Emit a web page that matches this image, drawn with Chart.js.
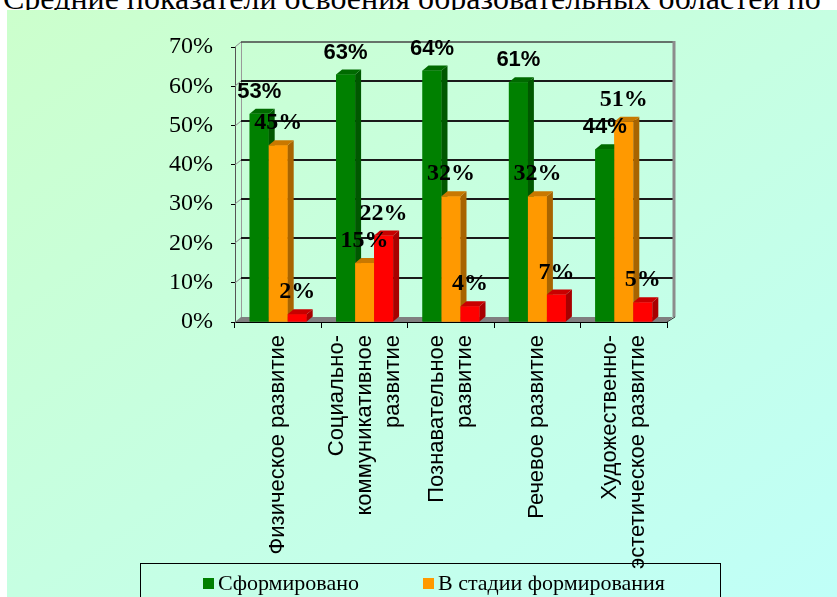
<!DOCTYPE html>
<html>
<head>
<meta charset="utf-8">
<script src="https://cdn.jsdelivr.net/npm/chart.js@4.4.1/dist/chart.umd.min.js"></script>
<style>
  html, body { margin: 0; padding: 0; background: #fff; width: 837px; height: 597px; overflow: hidden; }
  #title { position: absolute; left: 3px; top: -18px; font: 32px "Liberation Serif", "Times New Roman", serif; line-height: 32px; white-space: nowrap; color: #000; }
  #panel { position: absolute; left: 7px; top: 10px; right: 0; bottom: 0; background: linear-gradient(to bottom right, #ccffcc, #c0fff8); }
  #chart { position: absolute; left: 0; top: 0; }
</style>
</head>
<body>
<div id="title">Средние показатели освоения образовательных областей по</div>
<div id="panel"></div>
<canvas id="chart" width="837" height="597"></canvas>
<script>
// categories (multi-line labels as in the original)
const categories = [
  ['Физическое развитие'],
  ['Социально-', 'коммуникативное', 'развитие'],
  ['Познавательное', 'развитие'],
  ['Речевое развитие'],
  ['Художественно-', 'эстетическое развитие']
];
const seriesNames = ['Сформировано', 'В стадии формирования', 'Не сформировано'];
const formed = [53, 63, 64, 61, 44];
const inProgress = [45, 15, 32, 32, 51];
const notFormed = [2, 22, 4, 7, 5];
const yTicks = [0, 10, 20, 30, 40, 50, 60, 70];

const colors = [
  { front: '#008000', side: '#005800', top: '#006a00' },
  { front: '#ff9900', side: '#a86400', top: '#c87800' },
  { front: '#ff0000', side: '#a80000', top: '#c80000' }
];
const labelFonts = ['bold 22px "Liberation Sans", Arial, sans-serif',
                    'bold 24px "Liberation Serif", "Times New Roman", serif',
                    'bold 24px "Liberation Serif", "Times New Roman", serif'];
const DX = 6, DY = -5;

const box3d = {
  id: 'box3d',
  beforeDatasetsDraw(chart) {
    const ctx = chart.ctx;
    const a = chart.chartArea;
    const y = chart.scales.y;
    ctx.save();
    // floor
    ctx.fillStyle = '#808080';
    ctx.beginPath();
    ctx.moveTo(a.left, a.bottom);
    ctx.lineTo(a.right, a.bottom);
    ctx.lineTo(a.right + DX, a.bottom + DY);
    ctx.lineTo(a.left + DX, a.bottom + DY);
    ctx.closePath();
    ctx.fill();
    // left wall back edge
    ctx.strokeStyle = '#9a9a9a';
    ctx.lineWidth = 1;
    ctx.beginPath();
    ctx.moveTo(a.left + DX + 0.5, a.bottom + DY);
    ctx.lineTo(a.left + DX + 0.5, a.top + DY);
    ctx.stroke();
    // grid lines on back wall
    yTicks.forEach(v => {
      if (v === 0) return;
      const py = Math.round(y.getPixelForValue(v)) + DY;
      ctx.strokeStyle = '#8a8a8a';
      ctx.lineWidth = 1;
      ctx.beginPath();
      ctx.moveTo(a.left, py - DY);
      ctx.lineTo(a.left + DX, py);
      ctx.stroke();
      ctx.strokeStyle = v === 70 ? '#444' : '#1a1a1a';
      ctx.lineWidth = v === 70 ? 1.5 : 2;
      ctx.beginPath();
      ctx.moveTo(a.left + DX, py);
      ctx.lineTo(a.right + DX, py);
      ctx.stroke();
    });
    // right wall edge
    ctx.strokeStyle = '#8c8c8c';
    ctx.lineWidth = 3;
    ctx.beginPath();
    ctx.moveTo(a.right + DX + 1, a.top + DY - 1);
    ctx.lineTo(a.right + DX + 1, a.bottom + DY);
    ctx.stroke();
    ctx.strokeStyle = '#333';
    ctx.lineWidth = 1;
    ctx.beginPath();
    ctx.moveTo(a.right, a.bottom);
    ctx.lineTo(a.right + DX + 2, a.bottom + DY);
    ctx.stroke();
    ctx.restore();
  },
  afterDatasetsDraw(chart) {
    const ctx = chart.ctx;
    const n = categories.length;
    ctx.save();
    for (let i = 0; i < n; i++) {
      chart.data.datasets.forEach((ds, d) => {
        const bar = chart.getDatasetMeta(d).data[i];
        const l = bar.x - bar.width / 2, r = bar.x + bar.width / 2;
        const t = bar.y, b = bar.base;
        const c = colors[d];
        ctx.fillStyle = c.front;
        ctx.fillRect(l, t, r - l, b - t);
        ctx.fillStyle = c.side;
        ctx.beginPath();
        ctx.moveTo(r, t); ctx.lineTo(r + DX, t + DY); ctx.lineTo(r + DX, b + DY); ctx.lineTo(r, b);
        ctx.closePath(); ctx.fill();
        ctx.fillStyle = c.top;
        ctx.beginPath();
        ctx.moveTo(l, t); ctx.lineTo(l + DX, t + DY); ctx.lineTo(r + DX, t + DY); ctx.lineTo(r, t);
        ctx.closePath(); ctx.fill();
      });
    }
    // value labels
    ctx.fillStyle = '#000';
    ctx.textAlign = 'center';
    ctx.textBaseline = 'alphabetic';
    chart.data.datasets.forEach((ds, d) => {
      ctx.font = labelFonts[d];
      chart.getDatasetMeta(d).data.forEach((bar, i) => {
        ctx.fillText(ds.data[i] + '%', bar.x, bar.y - 16);
      });
    });
    ctx.restore();
  },
  afterDraw(chart) {
    const ctx = chart.ctx;
    const x = chart.scales.x;
    const a = chart.chartArea;
    ctx.save();
    // category labels, rotated, lines centred on the category
    ctx.font = '22px "Liberation Sans", Arial, sans-serif';
    ctx.fillStyle = '#000';
    ctx.textAlign = 'right';
    ctx.textBaseline = 'middle';
    const lh = 28;
    categories.forEach((lines, i) => {
      const cx = x.getPixelForValue(i);
      lines.forEach((s, j) => {
        ctx.save();
        ctx.translate(cx + (j - (lines.length - 1) / 2) * lh, a.bottom + 13);
        ctx.rotate(-Math.PI / 2);
        ctx.fillText(s, 0, 0);
        ctx.restore();
      });
    });
    // legend box (runs off the bottom edge as in the original)
    ctx.strokeStyle = '#000';
    ctx.lineWidth = 1;
    ctx.strokeRect(140.5, 563.5, 580, 70);
    ctx.font = '22px "Liberation Serif", "Times New Roman", serif';
    ctx.textAlign = 'left';
    ctx.textBaseline = 'alphabetic';
    const items = [[203, 590], [423, 590], [203, 620]];
    seriesNames.forEach((name, d) => {
      const [lx, ly] = items[d];
      ctx.fillStyle = colors[d].front;
      ctx.fillRect(lx, ly - 12, 11, 11);
      ctx.fillStyle = '#000';
      ctx.fillText(name, lx + 15, ly);
    });
    ctx.restore();
  }
};

new Chart(document.getElementById('chart'), {
  type: 'bar',
  data: {
    labels: categories.map(c => c.join(' ')),
    datasets: [
      { label: seriesNames[0], data: formed, backgroundColor: colors[0].front },
      { label: seriesNames[1], data: inProgress, backgroundColor: colors[1].front },
      { label: seriesNames[2], data: notFormed, backgroundColor: colors[2].front }
    ]
  },
  options: {
    responsive: false,
    animation: false,
    events: [],
    layout: { padding: { top: 47, right: 170, left: 0, bottom: 0 } },
    datasets: { bar: { categoryPercentage: 0.66, barPercentage: 1, borderWidth: 0 } },
    plugins: { legend: { display: false }, tooltip: { enabled: false } },
    scales: {
      x: {
        ticks: { display: false },
        grid: { display: true, drawOnChartArea: false, offset: true, tickLength: 6, color: '#000' },
        border: { display: true, color: '#000', width: 1 },
        afterFit(scale) { scale.height = 275; }
      },
      y: {
        min: 0, max: 70,
        afterBuildTicks(scale) { scale.ticks = yTicks.map(v => ({ value: v })); },
        ticks: {
          callback: v => v + '%',
          color: '#000',
          padding: 18,
          font: { family: '"Liberation Serif", "Times New Roman", serif', size: 24 }
        },
        grid: { display: true, drawOnChartArea: false, tickLength: 4, color: '#000' },
        border: { display: true, color: '#555', width: 1 },
        afterFit(scale) { scale.width = 235; }
      }
    }
  },
  plugins: [box3d]
});
</script>
</body>
</html>
